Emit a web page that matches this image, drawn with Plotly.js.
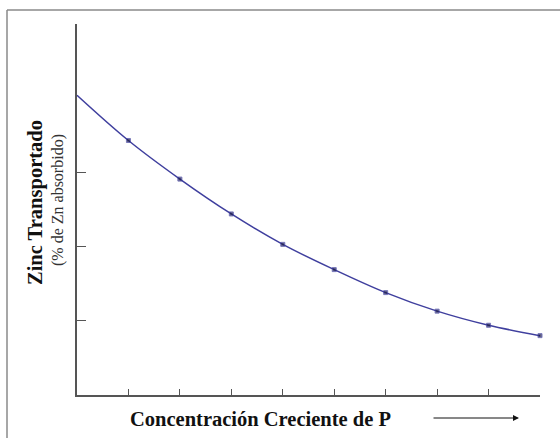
<!DOCTYPE html>
<html>
<head>
<meta charset="utf-8">
<script src="https://cdn.plot.ly/plotly-3.0.1.min.js"></script>
<style>html,body{margin:0;padding:0;background:#fff;}#chart{width:560px;height:438px;}</style>
</head>
<body>
<div id="chart"></div>
<script>
const xValues = [0, 1, 2, 3, 4, 5, 6, 7, 8, 9];
const zincValues = [4.04, 3.43, 2.91, 2.44, 2.03, 1.69, 1.38, 1.13, 0.94, 0.80];
const markerSizes = [0, 4, 4, 4, 4, 4, 4, 4, 4, 4];
const xTickVals = [1, 2, 3, 4, 5, 6, 7, 8, 9];
const yTickVals = [1, 2, 3, 5];

const pxL = 77, pxR = 540, pxT = 24, pxB = 395;
const W = 560, H = 438;
const px2x = p => (p - pxL) / (pxR - pxL);
const px2y = p => (pxB - p) / (pxB - pxT);

const serif = "Liberation Serif, Times New Roman, serif";

const trace = {
  x: xValues, y: zincValues, type: 'scatter', mode: 'lines+markers',
  line: {color: '#3f3f9e', width: 1.5, shape: 'spline', smoothing: 1},
  marker: {symbol: 'square', size: markerSizes, color: '#1a1a4a'},
  cliponaxis: false,
  hoverinfo: 'skip'
};

const layout = {
  width: W, height: H,
  margin: {l: pxL, r: W - pxR, t: pxT, b: H - pxB, pad: 0},
  paper_bgcolor: '#fff', plot_bgcolor: '#fff',
  showlegend: false,
  xaxis: {range: [0, 9], tickvals: xTickVals, showticklabels: false, ticks: 'inside', ticklen: 6,
          tickcolor: '#555', tickwidth: 1, showline: true, linecolor: '#555', linewidth: 2,
          showgrid: false, zeroline: false, fixedrange: true},
  yaxis: {range: [0, 5], tickvals: yTickVals, showticklabels: false, ticks: 'inside', ticklen: 9,
          tickcolor: '#555', tickwidth: 1, showline: true, linecolor: '#555', linewidth: 2,
          showgrid: false, zeroline: false, fixedrange: true},
  shapes: [
    {type: 'line', xref: 'paper', yref: 'paper', x0: px2x(7), x1: px2x(7), y0: px2y(10), y1: px2y(440), line: {color: '#8a8a8a', width: 1.5}},
    {type: 'line', xref: 'paper', yref: 'paper', x0: px2x(7), x1: px2x(562), y0: px2y(10), y1: px2y(10), line: {color: '#8a8a8a', width: 1.5}}
  ],
  annotations: [
    {xref: 'paper', yref: 'paper', x: px2x(35), y: px2y(203), text: '<b>Zinc Transportado</b>', showarrow: false, textangle: -90,
     font: {family: serif, size: 20.5, color: '#111'}, xanchor: 'center', yanchor: 'middle'},
    {xref: 'paper', yref: 'paper', x: px2x(58), y: px2y(200), text: '(% de Zn absorbido)', showarrow: false, textangle: -90,
     font: {family: serif, size: 16, color: '#333'}, xanchor: 'center', yanchor: 'middle'},
    {xref: 'paper', yref: 'paper', x: px2x(260), y: px2y(419), text: '<b>Concentración Creciente de P</b>', showarrow: false,
     font: {family: serif, size: 20.5, color: '#111'}, xanchor: 'center', yanchor: 'middle'},
    {xref: 'paper', yref: 'paper', x: px2x(519), y: px2y(418), ax: -87, ay: 0, text: '', showarrow: true,
     arrowhead: 2, arrowsize: 1.2, arrowwidth: 1, arrowcolor: '#111'}
  ]
};

Plotly.newPlot('chart', [trace], layout, {displayModeBar: false, staticPlot: true});
</script>
</body>
</html>
